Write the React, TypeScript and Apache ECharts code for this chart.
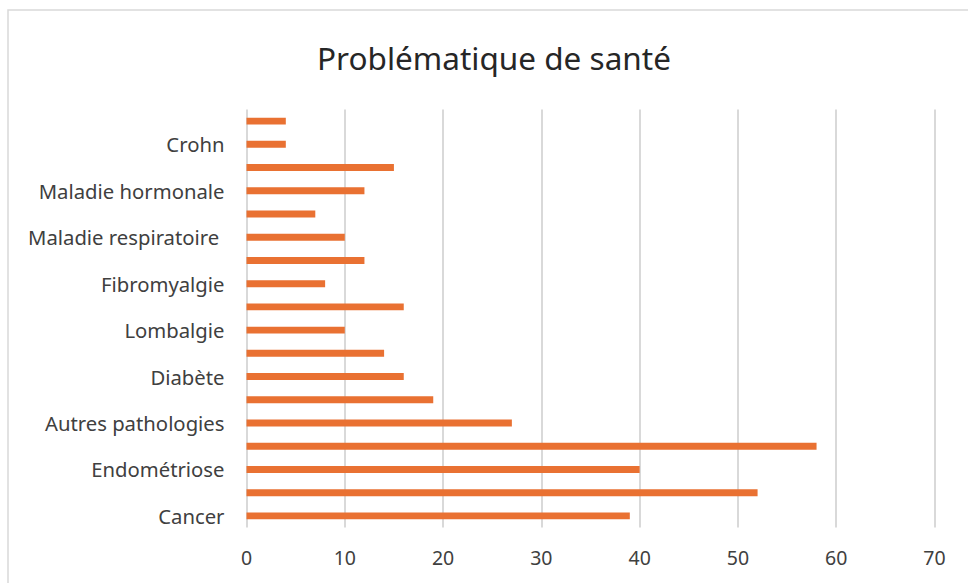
import React, { useEffect, useRef } from "react";
import * as echarts from "echarts";

const categories = [
  "Cancer", "", "Endométriose", "", "Autres pathologies", "", "Diabète", "",
  "Lombalgie", "", "Fibromyalgie", "", "Maladie respiratoire ", "", "Maladie hormonale", "",
  "Crohn", "",
];
const values = [39, 52, 40, 58, 27, 19, 16, 14, 10, 16, 8, 12, 10, 7, 12, 15, 4, 4];
const xTicks = { min: 0, max: 70, interval: 10 };
const titleText = "Problématique de santé";

export default function App() {
  const ref = useRef<HTMLDivElement>(null);
  useEffect(() => {
    document.body.style.margin = "0";
    const chart = echarts.init(ref.current!, null, { renderer: "svg" });
    chart.setOption({
      animation: false,
      backgroundColor: "#ffffff",
      title: {
        text: titleText,
        left: 489,
        top: 36,
        textAlign: "center",
        textStyle: { fontFamily: "Noto Sans", fontSize: 31.5, fontWeight: "normal", color: "#262626" },
      },
      graphic: [
        {
          type: "rect",
          shape: { x: 8, y: 10, width: 1000, height: 620 },
          style: { fill: "none", stroke: "#d9d9d9", lineWidth: 1.5 },
          silent: true,
        },
      ],
      grid: { left: 246.5, right: 33.5, top: 109.5, bottom: 55.5, containLabel: false },
      xAxis: {
        type: "value",
        min: xTicks.min,
        max: xTicks.max,
        interval: xTicks.interval,
        axisLine: { show: false },
        axisTick: { show: false },
        splitLine: { show: true, lineStyle: { color: "#d9d9d9", width: 2 } },
        axisLabel: { fontFamily: "Noto Sans", fontSize: 19.5, color: "#404040", margin: 20 },
      },
      yAxis: {
        type: "category",
        data: categories,
        axisLine: { show: false },
        axisTick: { show: false },
        splitLine: { show: false },
        axisLabel: { interval: 1, fontFamily: "Noto Sans", fontSize: 20.3, color: "#404040", margin: 22 },
      },
      series: [
        {
          type: "bar",
          data: values,
          barCategoryGap: "70%",
          itemStyle: { color: "#E97132" },
        },
      ],
    });
    return () => chart.dispose();
  }, []);
  return <div ref={ref} style={{ width: 968, height: 583 }} />;
}
